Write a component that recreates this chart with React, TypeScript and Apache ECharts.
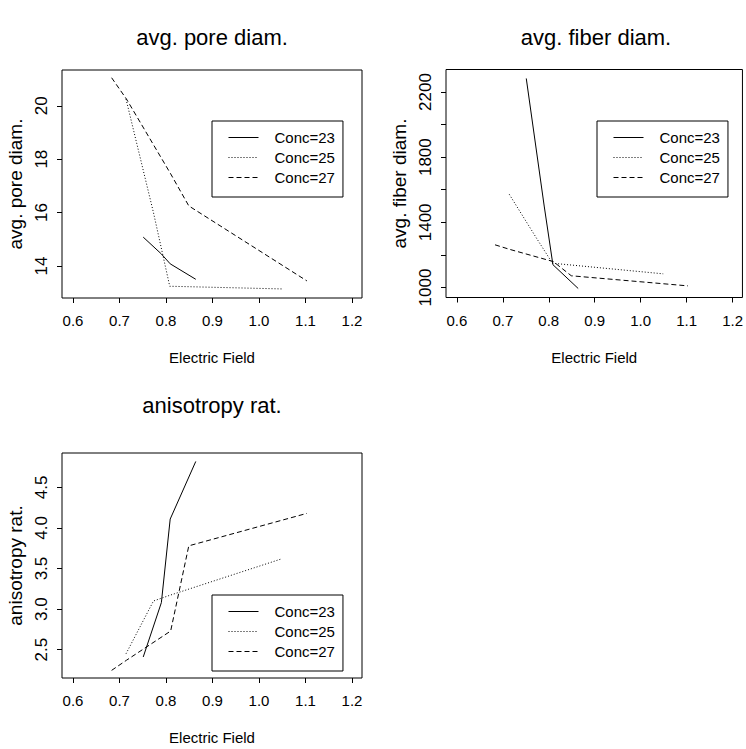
import React, { useEffect, useRef } from "react";
import * as echarts from "echarts";

// Electric field values per concentration series
const xConc23 = [0.751, 0.79, 0.809, 0.864];
const xConc25 = [0.714, 0.773, 0.808, 1.049];
const xConc27 = [0.683, 0.715, 0.81, 0.849, 1.103];

// avg. pore diam.
const pore23 = [15.08, 14.45, 14.08, 13.5];
const pore25 = [20.25, 16.0, 13.24, 13.14];
const pore27 = [21.05, 20.25, 17.45, 16.25, 13.44];

// avg. fiber diam.
const fiber23 = [2283, 1500, 1140, 994];
const fiber25 = [1572, 1304, 1149, 1084];
const fiber27 = [1262, 1234, 1159, 1072, 1010];

// anisotropy rat.
const aniso23 = [2.41, 3.08, 4.11, 4.82];
const aniso25 = [2.45, 3.1, 3.17, 3.62];
const aniso27 = [2.245, 2.37, 2.73, 3.78, 4.18];

const seriesNames = ["Conc=23", "Conc=25", "Conc=27"];
const xTicks = [0.6, 0.7, 0.8, 0.9, 1.0, 1.1, 1.2];
const poreTicks = [14, 16, 18, 20];
const fiberTicks = [1000, 1200, 1400, 1600, 1800, 2000, 2200];
const fiberLabels = [1000, 1400, 1800, 2200];
const anisoTicks = [2.5, 3.0, 3.5, 4.0, 4.5];

const titles = ["avg. pore diam.", "avg. fiber diam.", "anisotropy rat."];
const xName = "Electric Field";

const FONT = "'Liberation Sans', Arial, Helvetica, sans-serif";

const pair = (xs: number[], ys: number[]) => xs.map((x, i) => [x, ys[i]]);

export default function App() {
  const ref = useRef<HTMLDivElement>(null);
  useEffect(() => {
    if (!ref.current) return;
    const chart = echarts.init(ref.current, undefined, { renderer: "svg" });

    const grids = [
      { left: 62, top: 70, width: 300, height: 228 },
      { left: 446, top: 69.5, width: 299, height: 228 },
      { left: 62, top: 453, width: 300, height: 225 },
    ];
    const yRanges = [
      { min: 12.8, max: 21.34, ticks: poreTicks, labels: poreTicks, fmt: (v: number) => String(v) },
      { min: 938.7, max: 2338, ticks: fiberTicks, labels: fiberLabels, fmt: (v: number) => String(v) },
      { min: 2.151, max: 4.924, ticks: anisoTicks, labels: anisoTicks, fmt: (v: number) => v.toFixed(1) },
    ];
    const data = [
      [pair(xConc23, pore23), pair(xConc25, pore25), pair(xConc27, pore27)],
      [pair(xConc23, fiber23), pair(xConc25, fiber25), pair(xConc27, fiber27)],
      [pair(xConc23, aniso23), pair(xConc25, aniso25), pair(xConc27, aniso27)],
    ];
    const lineTypes: any[] = ["solid", [1, 2], [5, 3]];

    const legendPos = [
      { left: 212, top: 121 },
      { left: 597, top: 121 },
      { left: 212, top: 595 },
    ];
    const titlePos = [
      [212, 37],
      [596, 37],
      [212, 405],
    ];

    const series: any[] = [];
    data.forEach((panel, gi) => {
      panel.forEach((d, si) => {
        series.push({
          type: "line",
          name: seriesNames[si],
          xAxisIndex: gi,
          yAxisIndex: gi,
          data: d,
          symbol: "none",
          showSymbol: false,
          silent: true,
          lineStyle: { color: "#000", width: 1, type: lineTypes[si] },
          itemStyle: { color: "#000" },
        });
      });
    });

    const option: any = {
      animation: false,
      backgroundColor: "#fff",
      textStyle: { fontFamily: FONT },
      grid: grids.map((g) => ({
        ...g,
        show: true,
        borderColor: "#000",
        borderWidth: 1,
        backgroundColor: "transparent",
        containLabel: false,
      })),
      xAxis: grids.map((_, gi) => ({
        type: "value",
        gridIndex: gi,
        min: 0.5763,
        max: 1.2215,
        splitLine: { show: false },
        axisLine: { show: false },
        axisTick: {
          show: true,
          inside: false,
          length: 5,
          customValues: xTicks,
          lineStyle: { color: "#000", width: 1 },
        },
        axisLabel: {
          show: true,
          customValues: xTicks,
          formatter: (v: number) => v.toFixed(1),
          margin: 15,
          color: "#000",
          fontSize: 15,
          fontFamily: FONT,
        },
        name: xName,
        nameLocation: "middle",
        nameGap: 52,
        nameTextStyle: { color: "#000", fontSize: 15, fontFamily: FONT },
      })),
      yAxis: grids.map((_, gi) => ({
        type: "value",
        gridIndex: gi,
        min: yRanges[gi].min,
        max: yRanges[gi].max,
        splitLine: { show: false },
        axisLine: { show: false },
        axisTick: {
          show: true,
          inside: false,
          length: 5,
          customValues: yRanges[gi].ticks,
          lineStyle: { color: "#000", width: 1 },
        },
        axisLabel: {
          show: true,
          rotate: 90,
          customValues: yRanges[gi].labels,
          formatter: yRanges[gi].fmt,
          margin: 12,
          color: "#000",
          fontSize: 17,
          fontFamily: FONT,
        },
        name: titles[gi],
        nameLocation: "middle",
        nameGap: 37,
        nameRotate: 90,
        nameTextStyle: { color: "#000", fontSize: 19, fontFamily: FONT },
      })),
      legend: legendPos.map((p) => ({
        ...p,
        orient: "vertical",
        data: seriesNames,
        selectedMode: false,
        itemWidth: 30,
        itemHeight: 14,
        itemGap: 5,
        padding: [9, 8, 12, 16],
        borderColor: "#000",
        borderWidth: 1,
        backgroundColor: "#fff",
        itemStyle: { opacity: 0 },
        lineStyle: { width: 1, color: "#000" },
        textStyle: { color: "#000", fontSize: 15, fontFamily: FONT, padding: [0, 0, 0, 11] },
      })),
      graphic: titles.map((t, i) => ({
        type: "text",
        x: titlePos[i][0],
        y: titlePos[i][1],
        silent: true,
        style: {
          text: t,
          fill: "#000",
          font: `22px ${FONT}`,
          textAlign: "center",
          textVerticalAlign: "middle",
        },
      })),
      series,
    };
    chart.setOption(option);
    return () => chart.dispose();
  }, []);
  return (
    <div
      ref={ref}
      style={{ position: "absolute", left: 0, top: 0, width: 746, height: 749 }}
    />
  );
}
